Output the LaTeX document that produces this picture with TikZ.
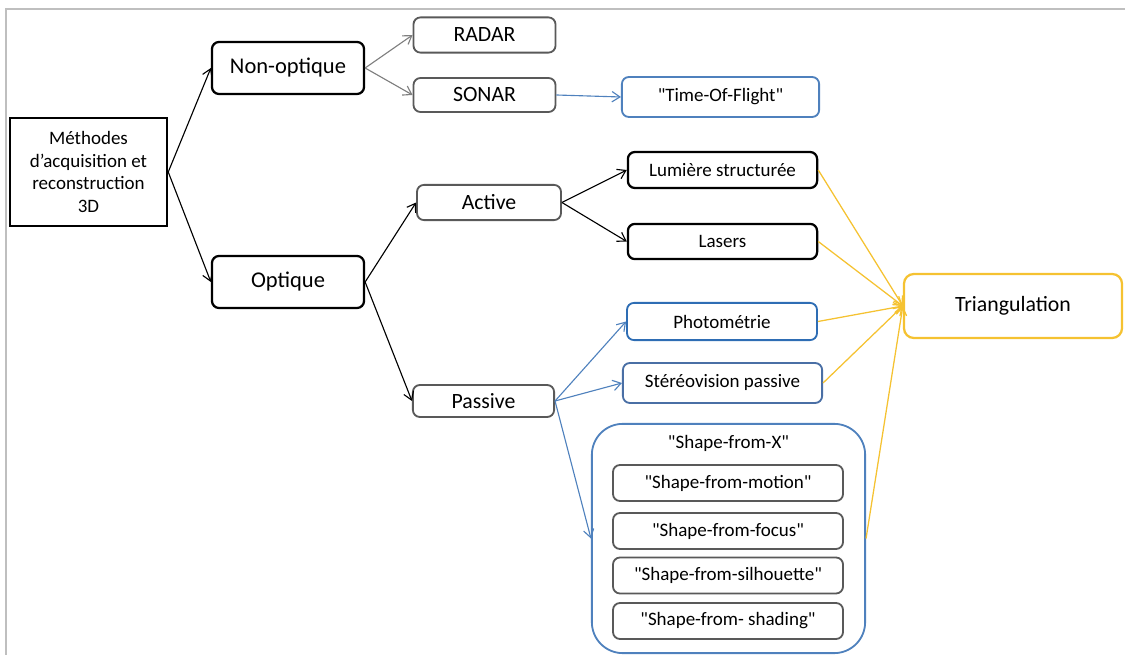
\documentclass[tikz,border=0pt]{standalone}
\usepackage{fontspec}
\setmainfont{Carlito}[Ligatures=TeXOff]
\usetikzlibrary{arrows.meta}

\definecolor{boxgray}{HTML}{595959}
\definecolor{linegray}{HTML}{7F7F7F}
\definecolor{officeblue}{HTML}{4F81BD}
\definecolor{deepblue}{HTML}{2E6DB4}
\definecolor{slateblue}{HTML}{4A6FA5}
\definecolor{gold}{HTML}{F5C231}
\definecolor{framegray}{HTML}{BFBFBF}

\begin{document}
\begin{tikzpicture}[x=0.025cm,y=-0.025cm,
    >={Straight Barb[length=2mm,width=2.6mm]}]

        \useasboundingbox (0,0) rectangle (1125,655);
        \draw[framegray,line width=1.4pt] (6,655) -- (6,9) -- (1125,9);

        % black boxes
        \begin{scope}[every node/.style={draw=black,line width=1.6pt,rounded corners=5pt,
            inner sep=0pt,font=\fontsize{16}{19}\selectfont}]
          \node[rounded corners=0pt,minimum width=3.93cm,minimum height=2.70cm,align=center,
            font=\fontsize{13.5}{16.1}\selectfont] (main) at (88.5,172)
            {Méthodes\\d’acquisition et\\reconstruction\\3D};
          \node[minimum width=3.80cm,minimum height=1.30cm] (nonopt) at (288,68)  {Non-optique};
          \node[minimum width=3.80cm,minimum height=1.30cm] (opt)    at (288,282) {Optique};
          \node[minimum width=4.73cm,minimum height=0.90cm,font=\fontsize{13.5}{16}\selectfont]
            (lumiere) at (722.5,170) {Lumière structurée};
          \node[minimum width=4.73cm,minimum height=0.88cm,font=\fontsize{13.5}{16}\selectfont]
            (lasers) at (722.5,241.5) {Lasers};
        \end{scope}

        % gray boxes
        \begin{scope}[every node/.style={draw=boxgray,line width=1.3pt,rounded corners=5pt,
            inner sep=0pt,font=\fontsize{15.5}{18}\selectfont}]
          \node[minimum width=3.55cm,minimum height=0.88cm] (radar)   at (484.5,35)  {RADAR};
          \node[minimum width=3.55cm,minimum height=0.85cm] (sonar)   at (484.5,95)  {SONAR};
          \node[minimum width=3.60cm,minimum height=0.88cm] (active)  at (489,202.5) {Active};
          \node[minimum width=3.53cm,minimum height=0.80cm] (passive) at (483.5,401) {Passive};
        \end{scope}

        % blue boxes
        \begin{scope}[every node/.style={line width=1.3pt,rounded corners=5pt,
            inner sep=0pt,font=\fontsize{13.5}{16}\selectfont}]
          \node[draw=officeblue,minimum width=4.93cm,minimum height=1.00cm] (tof) at (720.5,97)
            {"Time-Of-Flight"};
          \node[draw=deepblue,minimum width=4.75cm,minimum height=0.93cm] (photo) at (722,321.5)
            {Photométrie};
          \node[draw=slateblue,minimum width=4.98cm,minimum height=1.00cm] (stereo) at (722.5,383)
            {Stéréovision passive};
          \node[draw=officeblue,rounded corners=22pt,minimum width=6.83cm,minimum height=5.73cm]
            (shapex) at (728.5,538.5) {};
          \node (shapext) at (728.5,443) {"Shape-from-X"};
        \end{scope}

        % shape-from-x family
        \begin{scope}[every node/.style={draw=boxgray,line width=1.3pt,rounded corners=5pt,
            inner sep=0pt,minimum width=5.75cm,minimum height=0.90cm,
            font=\fontsize{13.5}{16}\selectfont}]
          \node (motion)     at (728,483)   {"Shape-from-motion"};
          \node (focus)      at (728,531)   {"Shape-from-focus"};
          \node (silhouette) at (728,575.5) {"Shape-from-silhouette"};
          \node (shading)    at (728,621)   {"Shape-from- shading"};
        \end{scope}

        \node[draw=gold,line width=1.6pt,rounded corners=7pt,inner sep=0pt,
          minimum width=5.45cm,minimum height=1.60cm,font=\fontsize{15.5}{18}\selectfont]
          (triang) at (1013,306) {Triangulation};

        % connectors
        \begin{scope}[every edge/.style={draw,->,line width=0.8pt}]
          \path (main.east)   edge (nonopt.west);
          \path (main.east)   edge (opt.west);
          \path (opt.east)    edge (active.west);
          \path (opt.east)    edge (passive.west);
          \path (active.east) edge (lumiere.west);
          \path (active.east) edge (lasers.west);
        \end{scope}

        \begin{scope}[every edge/.style={draw=linegray,->,line width=0.8pt}]
          \path (nonopt.east) edge (radar.west);
          \path (nonopt.east) edge (sonar.west);
        \end{scope}

        \begin{scope}[every edge/.style={draw=officeblue,->,line width=0.8pt}]
          \path (sonar.east)   edge (tof.west);
          \path (passive.east) edge (photo.west);
          \path (passive.east) edge (stereo.west);
          \path (passive.east) edge (shapex.west);
        \end{scope}

        \begin{scope}[every edge/.style={draw=gold,->,line width=0.9pt}]
          \path (lumiere.east) edge (triang.west);
          \path (lasers.east)  edge (triang.west);
          \path (photo.east)   edge (triang.west);
          \path (stereo.east)  edge (triang.west);
          \path (shapex.east)  edge (triang.west);
        \end{scope}

      \end{tikzpicture}
\end{document}
